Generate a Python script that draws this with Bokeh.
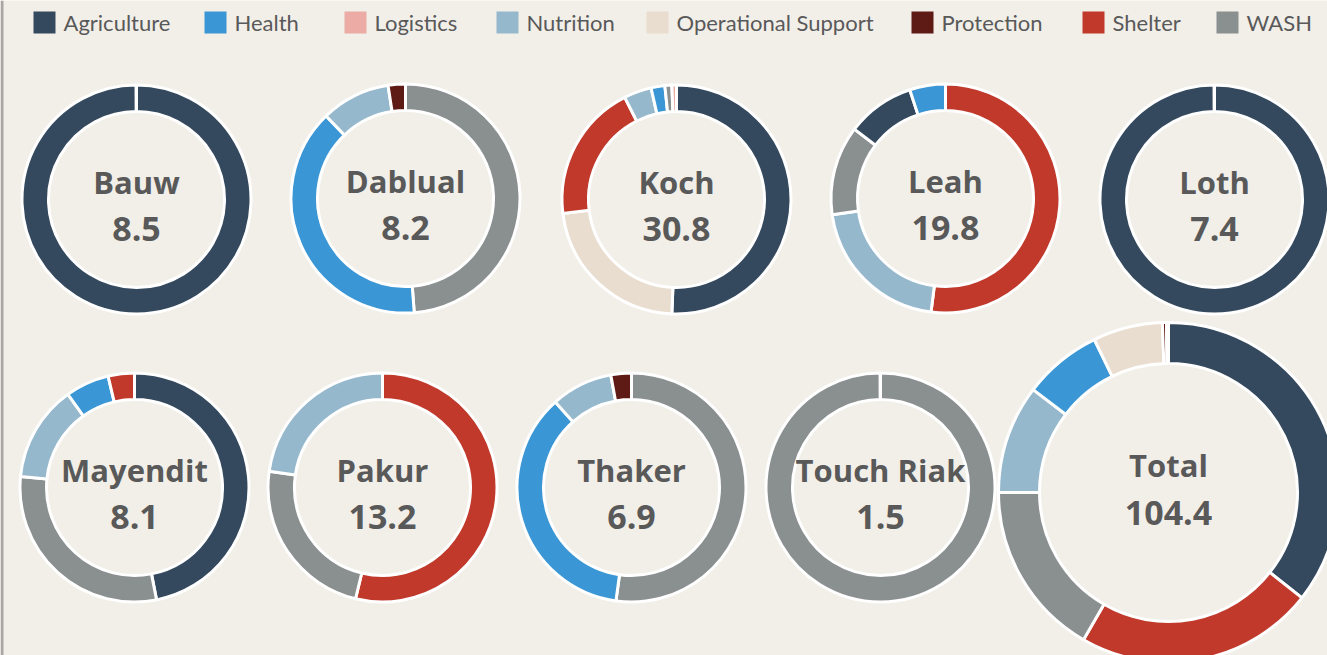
import math
from bokeh.plotting import figure
from bokeh.models import Range1d, Span
from bokeh.core.properties import value
from bokeh.embed import file_html
from bokeh.resources import INLINE

# ---------------- data ----------------
sectors = ["Agriculture", "Health", "Logistics", "Nutrition",
           "Operational Support", "Protection", "Shelter", "WASH"]
sector_colors = ["#34495E", "#3A96D4", "#ECABA5", "#96B8CC",
                 "#E9DDCF", "#5E1B15", "#C0392B", "#8A8F8F"]

counties = ["Bauw", "Dablual", "Koch", "Leah", "Loth",
            "Mayendit", "Pakur", "Thaker", "Touch Riak"]
#             Agri  Hlth  Log  Nutr  OpS  Prot  Shel  WASH
bauw       = [8.5,  0.0,  0.0, 0.0,  0.0, 0.0,  0.0,  0.0]
dablual    = [0.0,  3.2,  0.0, 0.8,  0.0, 0.2,  0.0,  4.0]
koch       = [15.6, 0.6,  0.2, 1.2,  6.9, 0.0,  6.0,  0.3]
leah       = [1.9,  1.0,  0.0, 4.1,  0.0, 0.0,  10.3, 2.5]
loth       = [7.4,  0.0,  0.0, 0.0,  0.0, 0.0,  0.0,  0.0]
mayendit   = [3.8,  0.5,  0.0, 1.1,  0.0, 0.0,  0.3,  2.4]
pakur      = [0.0,  0.0,  0.0, 3.0,  0.0, 0.0,  7.1,  3.1]
thaker     = [0.0,  2.5,  0.0, 0.6,  0.0, 0.2,  0.0,  3.6]
touch_riak = [0.0,  0.0,  0.0, 0.0,  0.0, 0.0,  0.0,  1.5]
county_values = [bauw, dablual, koch, leah, loth, mayendit, pakur, thaker, touch_riak]
total_values = [sum(c[i] for c in county_values) for i in range(len(sectors))]

# ---------------- layout (image pixel coords) ----------------
W, H = 1327, 655
BG = "#F2EFE9"
TXT = "#595959"
small_centers = [(136, 199), (405, 198), (676, 199), (945, 198), (1214, 199),
                 (134, 487), (382, 487), (631, 487), (880, 487)]
total_center = (1168, 492)
R_SMALL = (88, 114.5)
R_TOTAL = (129, 170)
legend_text_x = [63, 234, 374, 526, 676, 941, 1112, 1246]

p = figure(width=W, height=H, x_range=Range1d(0, W), y_range=Range1d(0, H),
           output_backend="svg", toolbar_location=None,
           x_axis_location=None, y_axis_location=None, min_border=0,
           background_fill_color=BG, border_fill_color=BG, outline_line_color=None)
p.grid.visible = False


def ring(vals, cx, cy, r_in, r_out):
    items = [(v, sector_colors[i]) for i, v in enumerate(vals) if v > 0]
    items.sort(key=lambda t: -t[0])
    tot = sum(v for v, _ in items)
    starts, ends, cols = [], [], []
    cum = 0.0
    for v, c in items:
        a0 = math.pi / 2 - 2 * math.pi * cum / tot
        cum += v
        a1 = math.pi / 2 - 2 * math.pi * cum / tot
        if a0 - a1 > 2 * math.pi - 0.004:
            a1 = a0 - 2 * math.pi + 0.004
        starts.append(a0)
        ends.append(a1)
        cols.append(c)
    p.annular_wedge(x=cx, y=H - cy, inner_radius=r_in, outer_radius=r_out,
                    start_angle=starts, end_angle=ends, direction="clock",
                    fill_color=cols, line_color="white", line_width=3)
    return tot


name_x, name_y, num_y, nums = [], [], [], []
for name, vals, (cx, cy) in zip(counties, county_values, small_centers):
    t = ring(vals, cx, cy, *R_SMALL)
    name_x.append(cx)
    name_y.append(H - (cy - 18))
    num_y.append(H - (cy + 29))
    nums.append(f"{t:.1f}")

tt = ring(total_values, total_center[0], total_center[1], *R_TOTAL)

font = value("Open Sans")
p.text(x=name_x, y=name_y, text=counties, text_font=font, text_font_style="bold",
       text_font_size="31px", text_color=TXT, text_align="center",
       text_baseline="alphabetic")
p.text(x=name_x, y=num_y, text=nums, text_font=font, text_font_style="bold",
       text_font_size="34px", text_color=TXT, text_align="center",
       text_baseline="alphabetic")
p.text(x=[total_center[0]], y=[H - (total_center[1] - 28)], text=["Total"],
       text_font=font, text_font_style="bold", text_font_size="31px",
       text_color=TXT, text_align="center", text_baseline="alphabetic")
p.text(x=[total_center[0]], y=[H - (total_center[1] + 20)], text=[f"{tt:.1f}"],
       text_font=font, text_font_style="bold", text_font_size="34px",
       text_color=TXT, text_align="center", text_baseline="alphabetic")

# legend
p.rect(x=[x - 19 for x in legend_text_x], y=H - 22, width=22, height=22,
       fill_color=sector_colors, line_color=None)
p.text(x=legend_text_x, y=H - 22, text=sectors, text_font=value("Lato"),
       text_font_size="22px", text_color=TXT, text_baseline="alphabetic")

# left border line
p.add_layout(Span(location=1.5, dimension="height", line_color="#A9A6A3", line_width=3))

open("out.html", "w").write(file_html(p, INLINE))
